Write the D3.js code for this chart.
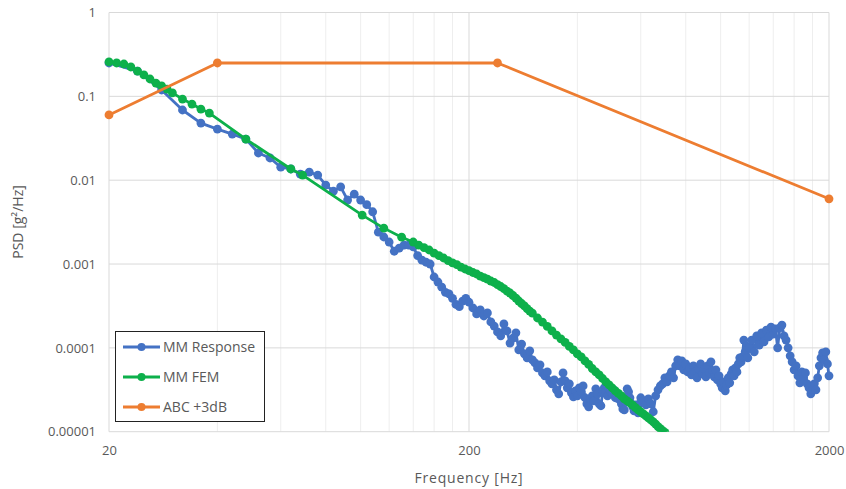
<!DOCTYPE html>
<html>
<head>
<meta charset="utf-8">
<script src="https://cdn.jsdelivr.net/npm/d3@7"></script>
<style>
  html, body { margin: 0; padding: 0; background: #fff; }
  svg { display: block; }
  text { font-family: "Open Sans", "Liberation Sans", sans-serif; fill: #595959; }
</style>
</head>
<body>
<svg id="chart" width="846" height="489"></svg>
<script>
// Measured response (MM Response)
const responseFreq = [
  20, 24, 28, 32, 36, 40, 44, 48, 52, 56, 60, 64, 68, 72, 76, 80, 84, 88, 92, 96,
  100, 104, 108, 112, 116, 120, 124, 128, 132, 136, 140, 144, 148, 152, 156, 160, 164, 168, 172, 176,
  180, 184, 188, 192, 196, 200,
  205, 210, 215, 220, 225, 230, 235, 240, 245, 250, 255, 260, 265, 270, 275, 280, 285, 290, 295, 300,
  305, 310, 315, 320, 325, 330, 335, 340, 345, 350, 355, 360, 365, 370, 375, 380, 385, 390, 395, 400,
  405, 410, 415, 420, 425, 430, 435, 440, 445, 450, 455, 460, 465, 470, 475, 480, 485, 490, 495, 500,
  505, 510, 515, 520, 525, 530, 535, 540, 545, 550, 555, 560, 565, 570, 575, 580, 585, 590, 595, 600,
  610, 620, 630, 640, 650, 660, 670, 680, 690, 700, 710, 720, 730, 740, 750, 760, 770, 780, 790, 800,
  810, 820, 830, 840, 850, 860, 870, 880, 890, 900, 910, 920, 930, 940, 950, 960, 970, 980, 990, 1000,
  1010, 1020, 1030, 1040, 1050, 1060, 1070, 1080, 1090, 1100, 1110, 1120, 1130, 1140, 1150, 1160, 1170, 1180, 1190, 1200,
  1220, 1240, 1260, 1280, 1300, 1320, 1340, 1360, 1380, 1400, 1420, 1440, 1460, 1480, 1500, 1520, 1540, 1560, 1580, 1600,
  1620, 1640, 1660, 1680, 1700, 1720, 1740, 1760, 1780, 1800, 1820, 1840, 1860, 1880, 1900, 1920, 1940, 1960, 1980, 2000
];
const responsePsd = [
  0.25, 0.2, 0.119, 0.0687, 0.048, 0.0407, 0.0355, 0.0309, 0.0211, 0.0184, 0.0143, 0.0136, 0.0118, 0.0125, 0.0115, 0.00874, 0.0074, 0.0083, 0.0058, 0.0068,
  0.0058, 0.0051, 0.0042, 0.0024, 0.0021, 0.00183, 0.00142, 0.00155, 0.00168, 0.00168, 0.0016, 0.00126, 0.00111, 0.00105, 0.001, 0.0007, 0.00061, 0.00053, 0.00046, 0.00044,
  0.00039, 0.00033, 0.00031, 0.00036, 0.00039, 0.00035,
  2.99e-4, 2.54e-4, 2.83e-4, 2.40e-4, 2.61e-4, 2.04e-4, 1.82e-4, 1.55e-4, 1.39e-4, 1.93e-4,
  1.59e-4, 1.14e-4, 1.31e-4, 1.51e-4, 9.47e-5, 1.11e-4, 8.48e-5, 7.60e-5, 9.21e-5, 7.19e-5,
  6.62e-5, 5.77e-5, 6.27e-5, 5.03e-5, 4.64e-5, 5.17e-5, 4.04e-5, 3.72e-5, 4.15e-5, 3.16e-5,
  2.83e-5, 3.93e-5, 5.03e-5, 4.04e-5, 3.34e-5, 3.72e-5, 2.91e-5, 2.61e-5, 3.07e-5, 2.68e-5,
  3.34e-5, 2.99e-5, 3.52e-5, 2.54e-5, 2.15e-5, 1.98e-5, 2.47e-5, 2.68e-5, 2.33e-5, 3.25e-5,
  2.83e-5, 2.15e-5, 2.04e-5, 2.91e-5, 3.34e-5, 2.99e-5, 2.68e-5, 3.25e-5, 2.99e-5, 2.83e-5,
  3.16e-5, 2.54e-5, 2.68e-5, 2.47e-5, 2.68e-5, 2.15e-5, 1.87e-5, 1.82e-5, 2.27e-5, 3.25e-5,
  2.99e-5, 2.54e-5, 2.15e-5, 1.98e-5, 1.77e-5, 2.09e-5, 1.93e-5, 1.68e-5, 2.15e-5, 2.54e-5,
  2.33e-5, 2.09e-5, 2.47e-5, 2.15e-5, 1.73e-5, 2.68e-5, 3.16e-5, 3.52e-5, 3.72e-5, 4.39e-5,
  3.93e-5, 4.64e-5, 5.17e-5, 4.39e-5, 6.10e-5, 7.19e-5, 6.10e-5, 7.00e-5, 5.47e-5, 6.44e-5,
  5.17e-5, 5.77e-5, 4.77e-5, 6.10e-5, 5.17e-5, 4.39e-5, 5.62e-5, 6.44e-5, 4.90e-5, 5.62e-5,
  4.51e-5, 6.10e-5, 5.03e-5, 6.81e-5, 5.32e-5, 4.51e-5, 5.47e-5, 4.15e-5, 4.64e-5, 3.72e-5,
  3.34e-5, 3.93e-5, 3.07e-5, 3.62e-5, 4.39e-5, 3.83e-5, 4.90e-5, 5.47e-5, 4.64e-5, 5.77e-5,
  5.17e-5, 6.44e-5, 7.60e-5, 6.81e-5, 7.81e-5, 1.24e-4, 8.96e-5, 1.05e-4, 7.60e-5, 1.0e-4,
  1.24e-4, 8.96e-5, 1.39e-4, 1.08e-4, 1.51e-4, 1.18e-4, 1.63e-4, 1.35e-4, 1.77e-4, 1.46e-4,
  1.68e-4, 1.0e-4, 1.73e-4, 1.87e-4, 1.39e-4, 1.24e-4, 1.0e-4, 8.03e-5, 6.81e-5, 5.47e-5,
  6.10e-5, 4.64e-5, 3.83e-5, 5.17e-5, 4.39e-5, 5.03e-5, 3.72e-5, 3.34e-5, 2.83e-5, 3.16e-5,
  3.72e-5, 3.16e-5, 4.39e-5, 6.10e-5, 7.60e-5, 8.72e-5, 7.19e-5, 8.96e-5, 6.44e-5, 4.64e-5
];

// Finite element prediction (MM FEM)
const femFreq = [
  20, 21, 22, 23, 24, 25, 26, 27, 28, 29, 30, 32, 34, 36, 38, 48, 64, 69, 101, 116, 130,
  140, 145, 150, 155, 160, 165, 170, 175, 180, 185, 190, 195, 200, 205, 210, 215, 220, 225, 230,
  235, 240, 245, 250, 255, 260, 265, 270, 275, 280, 285, 290, 295, 300,
  310, 320, 330, 340, 350, 360, 370, 380, 390, 400, 410, 420, 430, 440, 450, 460, 470, 480, 490, 500,
  510, 520, 530, 540, 550, 560, 570, 580, 590, 600, 610, 620, 630, 640, 650, 660, 670, 680, 690, 700
];
const femPsd = [
  0.257, 0.25, 0.243, 0.224, 0.2, 0.18, 0.161, 0.144, 0.133, 0.122, 0.11, 0.0928, 0.0809, 0.0705, 0.0632, 0.0309, 0.0136, 0.0115, 0.00383, 0.00268, 0.00209,
  0.00183, 0.00168, 0.00157, 0.00147, 0.00135, 0.00126, 0.00118, 0.0011, 0.00103, 9.86e-4, 9.2e-4, 8.72e-4, 8.36e-4, 7.92e-4, 7.6e-4, 7.19e-4, 6.9e-4, 6.62e-4, 6.27e-4,
  6.02e-4, 5.69e-4, 5.39e-4, 5.1e-4, 4.76e-4, 4.51e-4, 4.21e-4, 3.93e-4, 3.62e-4, 3.38e-4, 3.16e-4, 2.94e-4, 2.75e-4, 2.6e-4,
  2.27e-4, 2.03e-4, 1.8e-4, 1.59e-4, 1.42e-4, 1.28e-4, 1.16e-4, 1.04e-4, 9.44e-5, 8.46e-5, 7.79e-5, 6.98e-5, 6.34e-5, 5.67e-5, 5.16e-5, 4.75e-5, 4.31e-5, 3.92e-5, 3.61e-5, 3.32e-5,
  3.06e-5, 2.86e-5, 2.67e-5, 2.46e-5, 2.33e-5, 2.2e-5, 2.08e-5, 1.94e-5, 1.82e-5, 1.72e-5, 1.63e-5, 1.54e-5, 1.46e-5, 1.38e-5, 1.31e-5, 1.23e-5, 1.15e-5, 1.09e-5, 1.03e-5, 9.8e-6
];

// Test specification (ABC +3dB)
const specFreq = [20, 40, 240, 2000];
const specPsd = [0.06, 0.25, 0.25, 0.006];

const seriesNames = ["MM Response", "MM FEM", "ABC +3dB"];
const seriesColors = ["#4472C4", "#0DB04B", "#ED7D31"];

const xMajorTicks = [20, 200, 2000];
const xMinorTicks = [40, 60, 80, 100, 120, 140, 160, 180, 400, 600, 800, 1000, 1200, 1400, 1600, 1800];
const yTicks = [1, 0.1, 0.01, 0.001, 0.0001, 0.00001];
const yTickLabels = ["1", "0.1", "0.01", "0.001", "0.0001", "0.00001"];

const svg = d3.select("#chart");
const plot = { left: 109, right: 829, top: 12.5, bottom: 431.7 };

const x = d3.scaleLog().domain([20, 2000]).range([plot.left, plot.right]);
const y = d3.scaleLog().domain([1e-5, 1]).range([plot.bottom, plot.top]);

// gridlines
const grid = svg.append("g");
grid.selectAll("line.vminor").data(xMinorTicks).join("line")
  .attr("x1", d => x(d)).attr("x2", d => x(d))
  .attr("y1", plot.top).attr("y2", plot.bottom)
  .attr("stroke", "#eeeeee").attr("stroke-width", 1);
grid.selectAll("line.vmajor").data(xMajorTicks).join("line")
  .attr("x1", d => x(d)).attr("x2", d => x(d))
  .attr("y1", plot.top).attr("y2", plot.bottom)
  .attr("stroke", "#d9d9d9").attr("stroke-width", 1);
grid.selectAll("line.h").data(yTicks).join("line")
  .attr("x1", plot.left).attr("x2", plot.right)
  .attr("y1", d => y(d)).attr("y2", d => y(d))
  .attr("stroke", "#d9d9d9").attr("stroke-width", 1);

// axes (labels only)
const yAxis = d3.axisLeft(y).tickValues(yTicks)
  .tickFormat((d, i) => yTickLabels[i]).tickSize(0).tickPadding(13);
svg.append("g").attr("transform", `translate(${plot.left},0)`).call(yAxis)
  .call(g => g.select(".domain").remove())
  .selectAll("text").style("font-size", "13px").attr("fill", "#595959");

const xAxis = d3.axisBottom(x).tickValues(xMajorTicks)
  .tickFormat(d3.format("d")).tickSize(0).tickPadding(14);
svg.append("g").attr("transform", `translate(0,${plot.bottom})`).call(xAxis)
  .call(g => g.select(".domain").remove())
  .selectAll("text").style("font-size", "13px").attr("fill", "#595959");

// axis titles
svg.append("text").attr("x", 469).attr("y", 483).attr("text-anchor", "middle")
  .style("font-size", "14px").style("letter-spacing", "0.8px").text("Frequency [Hz]");
svg.append("text").attr("transform", "translate(23,222) rotate(-90)").attr("text-anchor", "middle")
  .style("font-size", "14px").text("PSD [g²/Hz]");

// series
svg.append("clipPath").attr("id", "plotClip").append("rect")
  .attr("x", plot.left - 6).attr("y", plot.top - 6)
  .attr("width", plot.right - plot.left + 12).attr("height", plot.bottom - plot.top + 6);

const series = [
  { freq: responseFreq, psd: responsePsd, color: seriesColors[0] },
  { freq: femFreq, psd: femPsd, color: seriesColors[1] },
  { freq: specFreq, psd: specPsd, color: seriesColors[2] }
];
const line = d3.line().x(d => x(d[0])).y(d => y(d[1]));
const layer = svg.append("g").attr("clip-path", "url(#plotClip)");
series.forEach(s => {
  const pts = s.freq.map((f, i) => [f, s.psd[i]]);
  const g = layer.append("g");
  g.append("path").datum(pts).attr("d", line)
    .attr("fill", "none").attr("stroke", s.color).attr("stroke-width", 2.8)
    .attr("stroke-linejoin", "round");
  g.selectAll("circle").data(pts).join("circle")
    .attr("cx", d => x(d[0])).attr("cy", d => y(d[1])).attr("r", 4.4)
    .attr("fill", s.color);
});

// legend
const legend = svg.append("g");
legend.append("rect").attr("x", 115.5).attr("y", 331.5).attr("width", 149).attr("height", 90)
  .attr("fill", "#fff").attr("stroke", "#222").attr("stroke-width", 1);
seriesNames.forEach((name, i) => {
  const cy = 347 + i * 30;
  legend.append("line").attr("x1", 123).attr("x2", 160).attr("y1", cy).attr("y2", cy)
    .attr("stroke", seriesColors[i]).attr("stroke-width", 2.8);
  legend.append("circle").attr("cx", 141.5).attr("cy", cy).attr("r", 4).attr("fill", seriesColors[i]);
  legend.append("text").attr("x", 163).attr("y", cy + 5).style("font-size", "14px").text(name);
});
</script>
</body>
</html>
